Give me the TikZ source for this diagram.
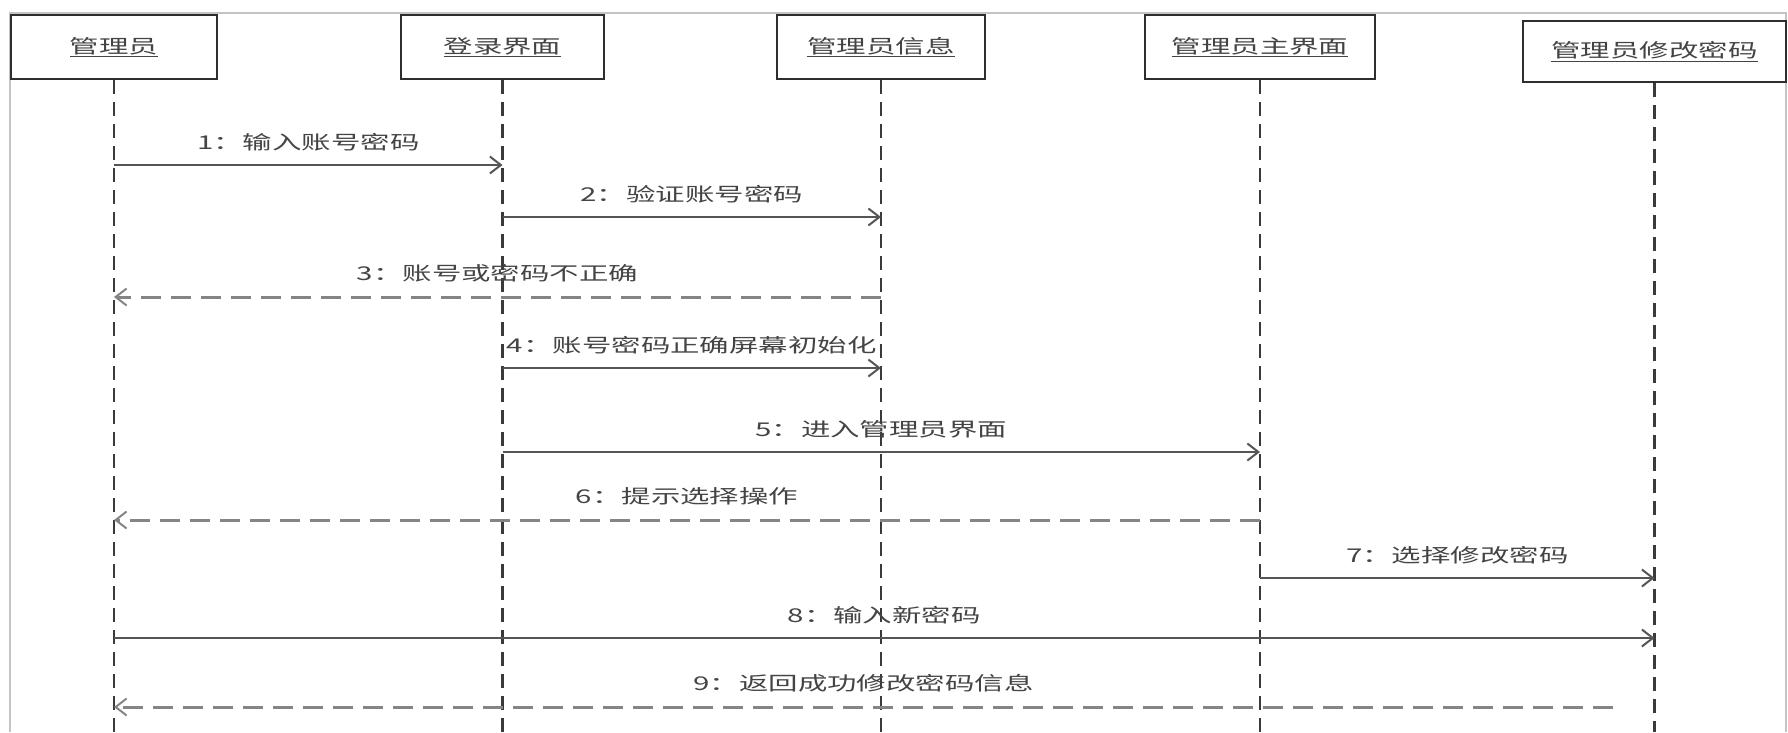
\documentclass[tikz,border=0pt]{standalone}
\usepackage{fontspec}
\setmainfont{Noto Sans CJK SC}
\usetikzlibrary{arrows.meta}
\definecolor{txtgray}{HTML}{444444}
\definecolor{framegray}{HTML}{C4C4C4}
\definecolor{boxline}{HTML}{2E2E2E}
\definecolor{lifegray}{HTML}{3A3A3A}
\definecolor{callgray}{HTML}{555555}
\definecolor{retgray}{HTML}{858585}
\newcommand{\wideTxt}[1]{\scalebox{1.55}[1]{#1}}
\newcommand{\objName}[1]{\underline{\wideTxt{#1}}}
\tikzset{
  objbox/.style={draw=boxline, line width=2.8pt, fill=white, text=txtgray, inner sep=0pt, minimum height=64pt},
  lifeline/.style={draw=lifegray, line width=2.4pt, dash pattern=on 14pt off 8pt},
  barb/.style={-{Straight Barb[length=11pt,width=17pt,line width=2pt]}},
  callmsg/.style={draw=callgray, line width=2.6pt, barb},
  thinmsg/.style={draw=callgray, line width=1.8pt, barb},
  retmsg/.style={draw=retgray, line width=3pt, dash pattern=on 20pt off 10pt, barb},
  msglabel/.style={text=txtgray, inner sep=0pt, above=13pt, midway}
}
\begin{document}
\begin{tikzpicture}[x=1pt, y=-1pt, font=\fontsize{19}{22}\selectfont]
\useasboundingbox (0,0) rectangle (1788,732);
% outer frame
\draw[framegray, line width=1.6pt] (10,732) -- (10,13) -- (1786,13) -- (1786,732);
% objects
\node[objbox, minimum width=206pt] (A) at (114,47) {\objName{管理员}};
\node[objbox, minimum width=203pt] (B) at (502.5,47) {\objName{登录界面}};
\node[objbox, minimum width=208pt] (C) at (881,47) {\objName{管理员信息}};
\node[objbox, minimum width=230pt] (D) at (1260,47) {\objName{管理员主界面}};
\node[objbox, minimum width=263pt, minimum height=61pt] (E) at (1654.5,51.5) {\objName{管理员修改密码}};
% bottom level
\coordinate (bot) at (0,732);
\foreach \o in {A,B,C,D,E}{
  \draw[lifeline] (\o.south) -- (\o.south |- bot);
}
% message levels
\coordinate (y1) at (0,165);
\coordinate (y2) at (0,217);
\coordinate (y3) at (0,297);
\coordinate (y4) at (0,368);
\coordinate (y5) at (0,452);
\coordinate (y6) at (0,520);
\coordinate (y7) at (0,578);
\coordinate (y8) at (0,638);
\coordinate (y9) at (0,707);
\coordinate (s9) at (1613,707);
% messages
\draw[callmsg] (A |- y1) -- node[msglabel] {\wideTxt{1：输入账号密码}} (B |- y1);
\draw[callmsg] (B |- y2) -- node[msglabel] {\wideTxt{2：验证账号密码}} (C |- y2);
\draw[retmsg]  (C |- y3) -- node[msglabel] {\wideTxt{3：账号或密码不正确}} (A |- y3);
\draw[callmsg] (B |- y4) -- node[msglabel] {\wideTxt{4：账号密码正确屏幕初始化}} (C |- y4);
\draw[callmsg] (B |- y5) -- node[msglabel] {\wideTxt{5：进入管理员界面}} (D |- y5);
\draw[retmsg]  (D |- y6) -- node[msglabel] {\wideTxt{6：提示选择操作}} (A |- y6);
\draw[thinmsg] (D |- y7) -- node[msglabel] {\wideTxt{7：选择修改密码}} (E |- y7);
\draw[callmsg] (A |- y8) -- node[msglabel] {\wideTxt{8：输入新密码}} (E |- y8);
\draw[retmsg]  (s9) -- node[msglabel] {\wideTxt{9：返回成功修改密码信息}} (A |- y9);
\end{tikzpicture}
\end{document}
